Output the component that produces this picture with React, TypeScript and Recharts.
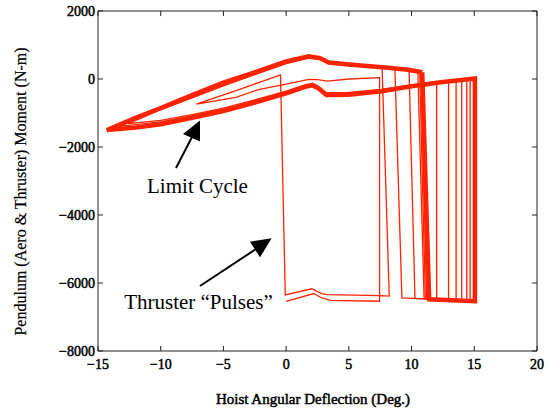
import { LineChart, Line, XAxis, YAxis, ReferenceLine } from 'recharts'

type Pt = [number, number]

const xTicks = [-15, -10, -5, 0, 5, 10, 15, 20]
const yTicks = [-8000, -6000, -4000, -2000, 0, 2000]

// first pulses from the initial condition
const startPath: Pt[] = [
  [0, -6540], [2.2, -6310], [2.85, -6440], [3.5, -6510], [7.45, -6537],
  [7.45, 40], [5, 0], [3.3, -60], [2.5, -20], [1.8, -10], [0, -150],
  [-2.2, -310], [-4, -540], [-7.15, -740], [-4, -340], [-0.45, 120],
  [-0.07, -6350], [2.05, -6170], [2.84, -6310], [3.23, -6340], [7.5, -6370],
  [8.22, -6385], [7.65, 340],
]

const cycle1: Pt[] = [
  [7.65, 340], [5, 395], [3.4, 450], [2.7, 570], [1.8, 615], [0, 455],
  [-2.5, 125], [-5, -205], [-7.5, -555], [-10, -905], [-12.6, -1310],
  [-10, -1215], [-7.5, -1045], [-5, -855], [-2.5, -615], [0, -355],
  [1.5, -170], [2.1, -125], [2.6, -225], [3.2, -405], [5, -395],
  [7.6, -305], [10, -170], [12.0, -95],
  [12.0, -6480], [9.23, -6440], [8.67, 320],
]

const cycle2: Pt[] = [
  [8.67, 320], [7.9, 340], [5, 405], [3.4, 460], [2.7, 585], [1.8, 630],
  [0, 475], [-2.5, 150], [-5, -165], [-7.5, -525], [-10, -885], [-12, -1185],
  [-13.3, -1390],
  [-12, -1340], [-10, -1260], [-7.5, -1085], [-5, -890], [-2.5, -645],
  [0, -385], [1.5, -195], [2.1, -150], [2.6, -250], [3.2, -435], [5, -420],
  [7.6, -330], [10, -190], [12.5, -80], [12.95, -60],
  [12.95, -6500], [10.27, -6450], [9.8, 270],
]

const cycle3: Pt[] = [
  [9.8, 270], [7.9, 335], [5, 415], [3.4, 470], [2.7, 598], [1.8, 645],
  [0, 495], [-2.5, 170], [-5, -135], [-7.5, -500], [-10, -872], [-12, -1165],
  [-13.8, -1450],
  [-12, -1400], [-10, -1300], [-7.5, -1110], [-5, -912], [-2.5, -668],
  [0, -402], [1.5, -212], [2.1, -165], [2.6, -265], [3.2, -452], [5, -440],
  [7.6, -345], [10, -200], [12.5, -88], [13.55, -45],
  [13.55, -6510], [11.0, -6460], [10.5, 240],
]

const cycle4: Pt[] = [
  [10.5, 240], [9.7, 265], [7.9, 330], [5, 420], [3.4, 478], [2.7, 606],
  [1.8, 655], [0, 505], [-2.5, 182], [-5, -118], [-7.5, -488], [-10, -862],
  [-12, -1155], [-14.05, -1480],
  [-12, -1418], [-10, -1318], [-7.5, -1128], [-5, -928], [-2.5, -683],
  [0, -414], [1.5, -222], [2.1, -174], [2.6, -274], [3.2, -463], [5, -452],
  [7.6, -354], [10, -206], [12.5, -90], [14.0, -25],
  [14.0, -6520], [11.1, -6465], [10.65, 225],
]

const cycle5: Pt[] = [
  [10.65, 225], [9.7, 268], [7.9, 332], [5, 422], [3.4, 482], [2.7, 610],
  [1.8, 660], [0, 510], [-2.5, 188], [-5, -112], [-7.5, -482], [-10, -858],
  [-12, -1150], [-14.2, -1492],
  [-12, -1425], [-10, -1326], [-7.5, -1136], [-5, -936], [-2.5, -690],
  [0, -420], [1.5, -228], [2.1, -180], [2.6, -280], [3.2, -468], [5, -457],
  [7.6, -358], [10, -210], [12.5, -92], [14.4, -5],
  [14.4, -6525], [11.2, -6470], [10.75, 212],
]

const cycle6: Pt[] = [
  [10.75, 212], [9.7, 270], [7.9, 334], [5, 424], [3.4, 485], [2.7, 613],
  [1.8, 664], [0, 514], [-2.5, 192], [-5, -108], [-7.5, -478], [-10, -855],
  [-12, -1147], [-14.25, -1497],
  [-12, -1428], [-10, -1329], [-7.5, -1139], [-5, -939], [-2.5, -693],
  [0, -423], [1.5, -231], [2.1, -182], [2.6, -282], [3.2, -470], [5, -459],
  [7.6, -360], [10, -211], [12.5, -91], [14.67, 5],
  [14.67, -6530], [11.3, -6475], [10.82, 205],
]

// settled limit cycle (drawn heavy)
const limitCycle: Pt[] = [
  [10.85, 200], [9.7, 272], [7.9, 336], [5, 426], [3.4, 487], [2.7, 615],
  [1.8, 667], [0, 517], [-2.5, 195], [-5, -105], [-7.5, -475], [-10, -852],
  [-12, -1145], [-14.3, -1500],
  [-12, -1430], [-10, -1331], [-7.5, -1141], [-5, -941], [-2.5, -695],
  [0, -425], [1.5, -232], [2.1, -183], [2.6, -283], [3.2, -471], [5, -460],
  [7.6, -361], [10, -212], [12.5, -90], [15.05, 15],
  [15.05, -6535], [11.4, -6480], [10.85, 200],
]

const toRows = (pts: Pt[]) => pts.map(([x, y]) => ({ x, y }))

const thinPaths = [startPath, cycle1, cycle2, cycle3, cycle4, cycle5, cycle6].map(toRows)
const limitRows = toRows(limitCycle)

const RED = '#ff2200'
const AXIS = '#222'
const SERIF = 'Liberation Serif'

// inward tick length on the top and right frame edges, in axis units (~5px)
const TICK_X = 0.4
const TICK_Y = 150

const fmt = (v: number) => (v < 0 ? `\u2212${Math.abs(v)}` : String(v))

// bold look drawn with a thin outline
const tickStyle = {
  fill: '#000',
  stroke: '#000',
  strokeWidth: 0.5,
  fontSize: 14,
  fontFamily: SERIF,
  style: { fontFamily: SERIF },
}

export default function App() {
  return (
    <div
      style={{
        position: 'absolute',
        left: 0,
        top: 0,
        width: 549,
        height: 409,
        background: '#fff',
        fontFamily: SERIF,
      }}
    >
      <LineChart
        width={549}
        height={409}
        margin={{ top: 11, right: 12, bottom: 0, left: 0 }}
        style={{ fontFamily: SERIF }}
      >
        <XAxis
          xAxisId="b"
          type="number"
          dataKey="x"
          domain={[-15, 20]}
          ticks={xTicks}
          allowDataOverflow
          height={58}
          stroke={AXIS}
          tickSize={-5}
          tickMargin={13}
          tick={tickStyle}
          tickFormatter={fmt}
        />
        <YAxis
          yAxisId="l"
          type="number"
          domain={[-8000, 2000]}
          ticks={yTicks}
          allowDataOverflow
          width={98}
          stroke={AXIS}
          tickSize={-5}
          tickMargin={8}
          tick={tickStyle}
          tickFormatter={fmt}
        />
        {/* top and right edges of the frame with their inward ticks */}
        <ReferenceLine xAxisId="b" yAxisId="l" y={2000} stroke={AXIS} ifOverflow="visible" />
        <ReferenceLine xAxisId="b" yAxisId="l" x={20} stroke={AXIS} ifOverflow="visible" />
        {xTicks.map((t) => (
          <ReferenceLine
            key={`tx${t}`}
            xAxisId="b"
            yAxisId="l"
            segment={[{ x: t, y: 2000 }, { x: t, y: 2000 - TICK_Y }]}
            stroke={AXIS}
            ifOverflow="visible"
          />
        ))}
        {yTicks.map((t) => (
          <ReferenceLine
            key={`ty${t}`}
            xAxisId="b"
            yAxisId="l"
            segment={[{ x: 20, y: t }, { x: 20 - TICK_X, y: t }]}
            stroke={AXIS}
            ifOverflow="visible"
          />
        ))}
        {thinPaths.map((rows, i) => (
          <Line
            key={i}
            xAxisId="b"
            yAxisId="l"
            data={rows}
            dataKey="y"
            type="linear"
            stroke={RED}
            strokeWidth={1.3}
            dot={false}
            activeDot={false}
            isAnimationActive={false}
          />
        ))}
        <Line
          xAxisId="b"
          yAxisId="l"
          data={limitRows}
          dataKey="y"
          type="linear"
          stroke={RED}
          strokeWidth={4.5}
          dot={false}
          activeDot={false}
          isAnimationActive={false}
        />
      </LineChart>
      <svg
        width={549}
        height={409}
        style={{ position: 'absolute', left: 0, top: 0, pointerEvents: 'none' }}
      >
        <text
          transform="translate(25.5,191.5) rotate(-90)"
          textAnchor="middle"
          fontFamily={SERIF}
          fontSize={16}
          fill="#000"
          stroke="#000"
          strokeWidth={0.2}
        >
          Pendulum (Aero &amp; Thruster) Moment (N-m)
        </text>
        <text
          x={313}
          y={404}
          textAnchor="middle"
          fontFamily={SERIF}
          fontSize={15}
          fill="#000"
          stroke="#000"
          strokeWidth={0.5}
        >
          Hoist Angular Deflection (Deg.)
        </text>
        <line x1={176} y1={168} x2={192} y2={137} stroke="#000" strokeWidth={2} />
        <polygon points="183,134 200,120.5 200,141.5" fill="#000" />
        <text x={197.5} y={193} textAnchor="middle" fontFamily={SERIF} fontSize={21} fill="#000">
          Limit Cycle
        </text>
        <line x1={200} y1={286} x2={256} y2={249} stroke="#000" strokeWidth={2} />
        <polygon points="250,241.7 271.7,238.3 260,257.3" fill="#000" />
        <text x={198.5} y={309} textAnchor="middle" fontFamily={SERIF} fontSize={21} fill="#000">
          Thruster “Pulses”
        </text>
      </svg>
    </div>
  )
}
